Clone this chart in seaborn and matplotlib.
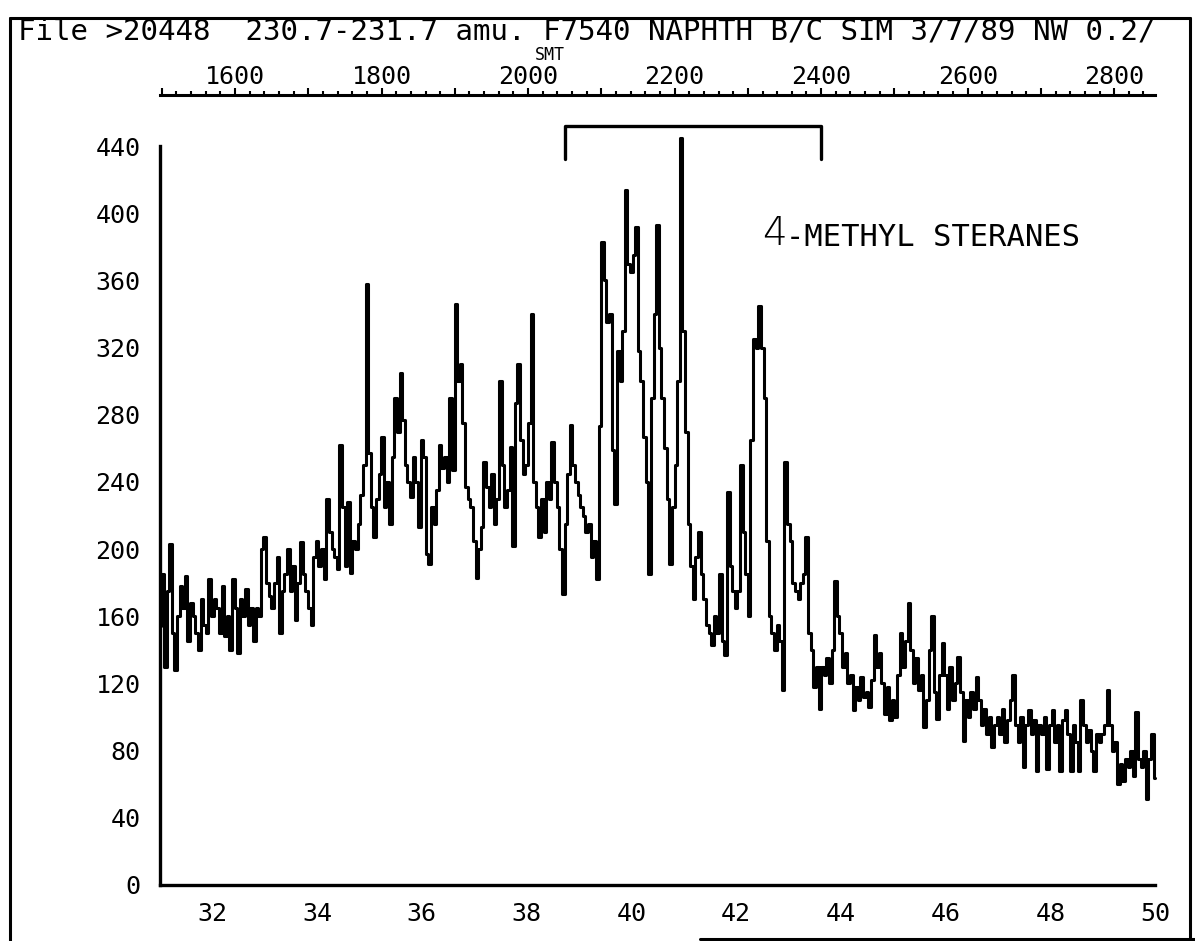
import numpy as np
import pandas as pd
import matplotlib
matplotlib.use("Agg")
import matplotlib.pyplot as plt
from matplotlib.ticker import MultipleLocator, FuncFormatter
from matplotlib.lines import Line2D
import seaborn as sns

# ---------------- data ----------------
START_MIN = 31.0
STEP_MIN = 0.05
m31 = [154,185,130,175,203,150,128,160,178,165,184,145,168,160,150,140,170,155,150,182]
m32 = [160,170,165,150,178,148,160,140,182,165,138,170,160,176,155,165,145,165,160,200]
m33 = [207,180,172,165,180,195,150,175,185,200,175,190,158,180,204,185,175,165,155,195]
m34 = [205,190,200,182,230,210,200,195,188,262,225,190,228,186,205,200,215,232,250,358]
m35 = [257,225,207,230,245,267,225,240,215,255,290,270,305,277,250,240,231,255,240,213]
m36 = [265,255,197,191,225,215,235,262,248,255,240,290,247,346,300,310,275,237,230,225]
m37 = [205,183,200,213,252,237,225,245,215,230,300,250,225,235,261,202,287,310,265,245]
m38 = [250,275,340,240,225,207,230,210,240,230,264,240,225,200,173,215,245,274,250,240]
m39 = [232,225,220,210,215,195,205,182,273,383,360,335,340,259,227,318,300,330,414,370]
m40 = [365,375,392,318,300,267,240,185,290,340,393,320,290,260,230,191,225,250,300,445]
m41 = [330,270,215,190,170,195,210,185,170,155,150,143,160,150,185,145,137,234,190,175]
m42 = [165,175,250,210,185,160,265,325,320,345,320,290,205,160,150,140,155,145,116,252]
m43 = [215,205,180,175,170,180,185,207,150,140,118,130,105,130,125,135,120,140,181,160]
m44 = [150,130,138,120,125,104,118,110,124,112,115,106,122,149,130,138,120,102,118,98]
m45 = [110,100,125,150,130,145,168,140,120,135,116,125,94,110,140,160,115,99,125,144]
m46 = [125,105,130,110,120,136,115,86,110,100,115,105,124,110,95,105,90,100,82,95]
m47 = [100,90,105,85,98,110,125,95,85,100,70,95,104,90,98,68,95,90,100,69]
m48 = [95,104,85,95,68,98,104,90,68,95,85,68,110,95,85,92,80,68,90,85]
m49 = [90,95,116,95,80,85,60,72,62,75,70,80,65,103,75,70,80,51,75,90]
m50 = [64]

intensity = (m31 + m32 + m33 + m34 + m35 + m36 + m37 + m38 + m39 + m40 +
             m41 + m42 + m43 + m44 + m45 + m46 + m47 + m48 + m49 + m50)
times = START_MIN + STEP_MIN * np.arange(len(intensity))

x_ticklabels = [32, 34, 36, 38, 40, 42, 44, 46, 48, 50]
y_ticklabels = [0, 40, 80, 120, 160, 200, 240, 280, 320, 360, 400, 440]
scan_ticklabels = [1600, 1800, 2000, 2200, 2400, 2600, 2800]

title_text = "File >20448  230.7-231.7 amu. F7540 NAPHTH B/C SIM 3/7/89 NW 0.2/"
axis_top_label = "SMT"
bracket_scans = [2050, 2400]
bracket_levels = [432, 452]
annotation_num = "4"
annotation_rest = "-METHYL STERANES"

# scan number <-> retention time (min)
SCAN_PER_MIN = 71.48
SCAN_OFFSET = -718.3
def t2scan(t):
    return SCAN_PER_MIN * np.asarray(t) + SCAN_OFFSET
def scan2t(s):
    return (np.asarray(s) - SCAN_OFFSET) / SCAN_PER_MIN

df = pd.DataFrame({"time": times, "counts": intensity})

# ---------------- figure ----------------
sns.set_style("white")
plt.rcParams["font.family"] = ["DejaVu Sans Mono", "DejaVu Sans"]
plt.rcParams["text.color"] = "black"
plt.rcParams["xtick.color"] = "black"
plt.rcParams["ytick.color"] = "black"
plt.rcParams["axes.edgecolor"] = "black"

W, H = 1195, 941
fig = plt.figure(figsize=(W / 100, H / 100), dpi=100)
L, R, B, T = 160, 1155, 885, 146
ax = fig.add_axes([L / W, 1 - B / H, (R - L) / W, (B - T) / H])

sns.lineplot(data=df, x="time", y="counts", ax=ax, color="black",
             linewidth=2.2, drawstyle="steps-mid", estimator=None,
             sort=False, clip_on=False)

ax.set_xlim(31, 50)
ax.set_ylim(0, 440)
ax.set_xlabel("")
ax.set_ylabel("")
ax.grid(False)
for s in ["top", "right"]:
    ax.spines[s].set_visible(False)
for s in ["left", "bottom"]:
    ax.spines[s].set_linewidth(2.4)
    ax.spines[s].set_color("black")

ax.xaxis.set_major_locator(MultipleLocator(1))
ax.xaxis.set_minor_locator(MultipleLocator(0.5))
ax.xaxis.set_major_formatter(FuncFormatter(
    lambda v, p: f"{int(round(v))}" if int(round(v)) in x_ticklabels else ""))
ax.yaxis.set_major_locator(MultipleLocator(40))
ax.yaxis.set_minor_locator(MultipleLocator(10))
ax.yaxis.set_major_formatter(FuncFormatter(
    lambda v, p: f"{int(round(v))}" if int(round(v)) in y_ticklabels else ""))

ax.tick_params(axis="x", which="major", direction="out", length=9.5, width=1.6,
               pad=3, labelsize=18, colors="black")
ax.tick_params(axis="x", which="minor", direction="out", length=5, width=1.6)
ax.tick_params(axis="y", which="major", direction="out", length=13, width=1.6,
               pad=1, labelsize=18, colors="black")
ax.tick_params(axis="y", which="minor", direction="out", length=5, width=1.6)

# top scan axis
sec = ax.secondary_xaxis(1 + (T - 95) / (B - T), functions=(t2scan, scan2t))
sec.xaxis.set_major_locator(MultipleLocator(100))
sec.xaxis.set_minor_locator(MultipleLocator(20))
sec.xaxis.set_major_formatter(FuncFormatter(
    lambda v, p: f"{int(round(v))}" if int(round(v)) in scan_ticklabels else ""))
sec.tick_params(axis="x", which="major", direction="out", length=5, width=1.5,
                pad=-1, labelsize=18, colors="black")
sec.tick_params(axis="x", which="minor", direction="out", length=3, width=1.5)
sec.spines["top"].set_linewidth(2.2)

# bracket over the 4-methyl sterane range
bt = scan2t(bracket_scans)
ax.plot([bt[0], bt[0], bt[1], bt[1]],
        [bracket_levels[0], bracket_levels[1], bracket_levels[1], bracket_levels[0]],
        color="black", lw=2.4, clip_on=False, solid_joinstyle="round")

# annotation text
fig.text(762 / W, 1 - 234 / H, annotation_num, fontsize=28, family="DejaVu Sans",
         fontweight="light", ha="left", va="center")
fig.text(786 / W, 1 - 238 / H, annotation_rest, fontsize=22, family="DejaVu Sans Mono",
         ha="left", va="center")

# header texts
fig.text(18 / W, 1 - 31 / H, title_text, fontsize=21, ha="left", va="center")
fig.text(550 / W, 1 - 55 / H, axis_top_label, fontsize=12, ha="center", va="center")

# outer frame of the printout
frame_kw = dict(color="black", lw=2.2, transform=fig.transFigure)
fig.add_artist(Line2D([10 / W, 10 / W], [0, 1 - 18 / H], **frame_kw))
fig.add_artist(Line2D([10 / W, 1190 / W], [1 - 18 / H, 1 - 18 / H], **frame_kw))
fig.add_artist(Line2D([1190 / W, 1190 / W], [0, 1 - 18 / H], **frame_kw))
fig.add_artist(Line2D([700 / W, 1], [1 - 939 / H, 1 - 939 / H], **frame_kw))

fig.savefig("out.png", dpi=100)
